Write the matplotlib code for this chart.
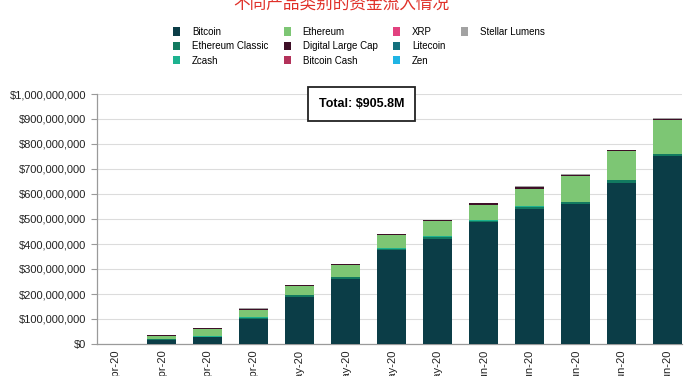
import numpy as np
import matplotlib.pyplot as plt
from matplotlib.patches import Patch
from matplotlib.ticker import FuncFormatter

plt.rcParams['font.family'] = ['Liberation Sans', 'DejaVu Sans']

# week labels (clipped at the bottom edge like the original)
weeks = ["6-Apr-20", "13-Apr-20", "20-Apr-20", "27-Apr-20",
         "4-May-20", "11-May-20", "18-May-20", "25-May-20",
         "1-Jun-20", "8-Jun-20", "15-Jun-20", "22-Jun-20", "29-Jun-20"]

# cumulative inflows, USD millions
bitcoin = [0.5, 18, 28, 100, 188, 261, 375, 420, 487, 540, 561, 645, 751]
eth_classic = [0, 1.5, 2, 6, 7, 6, 7, 9, 7, 9, 6, 9, 8]
zcash = [0, 0.3, 0.5, 1, 1.5, 1, 1.5, 1.5, 1.5, 1.5, 1.5, 1.5, 1.5]
ethereum = [0.3, 13, 29, 29, 34, 47, 51, 60, 61, 70, 103, 115, 134]
digital_large_cap = [0, 2, 3, 4, 4.5, 4.5, 5, 5, 6, 7, 5, 5, 6]
bitcoin_cash = [0, 0.1, 0.1, 0.2, 0.2, 0.2, 0.2, 0.2, 0.2, 0.2, 0.2, 0.2, 0.2]
xrp = [0, 0.05, 0.05, 0.1, 0.1, 0.1, 0.1, 0.1, 0.1, 0.1, 0.1, 0.1, 0.1]
litecoin = [0, 0.2, 0.3, 0.4, 0.4, 0.4, 0.4, 0.4, 0.5, 0.5, 0.5, 0.5, 0.5]
zen = [0, 0.02, 0.03, 0.05, 0.05, 0.05, 0.05, 0.05, 0.05, 0.05, 0.05, 0.05, 0.05]
stellar = [0, 0.8, 1, 1.5, 1.5, 1.5, 1.5, 1.5, 1.5, 2, 1.5, 1.5, 2]

series = [
    ("Bitcoin", bitcoin, "#0b3d47"),
    ("Ethereum Classic", eth_classic, "#127a60"),
    ("Zcash", zcash, "#1db28f"),
    ("Ethereum", ethereum, "#7dc674"),
    ("Digital Large Cap", digital_large_cap, "#3e0f27"),
    ("Bitcoin Cash", bitcoin_cash, "#b3325a"),
    ("XRP", xrp, "#e2417f"),
    ("Litecoin", litecoin, "#13707d"),
    ("Zen", zen, "#1fb4e4"),
    ("Stellar Lumens", stellar, "#a2a2a2"),
]

fig = plt.figure(figsize=(6.87, 3.76), dpi=100)
ax = fig.add_axes([97 / 687, 32 / 376, 585 / 687, 250 / 376])

x = np.arange(len(weeks))
bottom = np.zeros(len(weeks))
for name, vals, color in series:
    v = np.array(vals) * 1e6
    ax.bar(x, v, width=0.63, bottom=bottom, color=color, label=name, zorder=3)
    bottom += v

ax.set_xlim(-0.41, 12.31)
ax.set_ylim(0, 1e9)
ax.set_yticks(np.arange(0, 1.01e9, 1e8))
ax.yaxis.set_major_formatter(FuncFormatter(lambda v, p: f"${v:,.0f}"))
ax.grid(axis="y", color="#dcdcdc", linewidth=0.8, zorder=0)

ax.set_xticks(x)
ax.set_xticklabels(weeks, rotation=90, va="top", ha="center")
ax.tick_params(axis="y", labelsize=8, length=4, color="#9a9a9a", labelcolor="#222222")
ax.tick_params(axis="x", labelsize=8, length=0, pad=4, labelcolor="#222222")

for s in ["top", "right"]:
    ax.spines[s].set_visible(False)
for s in ["left", "bottom"]:
    ax.spines[s].set_color("#9a9a9a")
    ax.spines[s].set_linewidth(0.9)

# total box
ax.text(0.452, 0.96, "Total: $905.8M", transform=ax.transAxes,
        ha="center", va="center", fontsize=9, fontweight="bold",
        bbox=dict(boxstyle="square,pad=0.85", facecolor="white",
                  edgecolor="#222222", linewidth=1.3), zorder=5)

# legend: 3 rows, last column holds only Stellar Lumens
handles = [Patch(facecolor=c, label=n) for n, _, c in series]
blank = Patch(facecolor="none", edgecolor="none", label=" ")
handles = handles + [blank, blank]
fig.legend(handles=handles, ncol=4, loc="upper left",
           bbox_to_anchor=(168 / 687, 1 - 22 / 376), frameon=False,
           fontsize=7, handlelength=0.75, handleheight=0.9,
           handletextpad=1.2, columnspacing=1.6, labelspacing=0.45,
           borderpad=0)

# title, clipped at the top edge
fig.text(341 / 687, 1 - 9 / 376, "不同产品类别的资金流入情况",
         ha="center", va="baseline", fontsize=12, color="#e0312a",
         family=["Noto Sans CJK SC", "DejaVu Sans"])

fig.savefig("out.png", dpi=100)
